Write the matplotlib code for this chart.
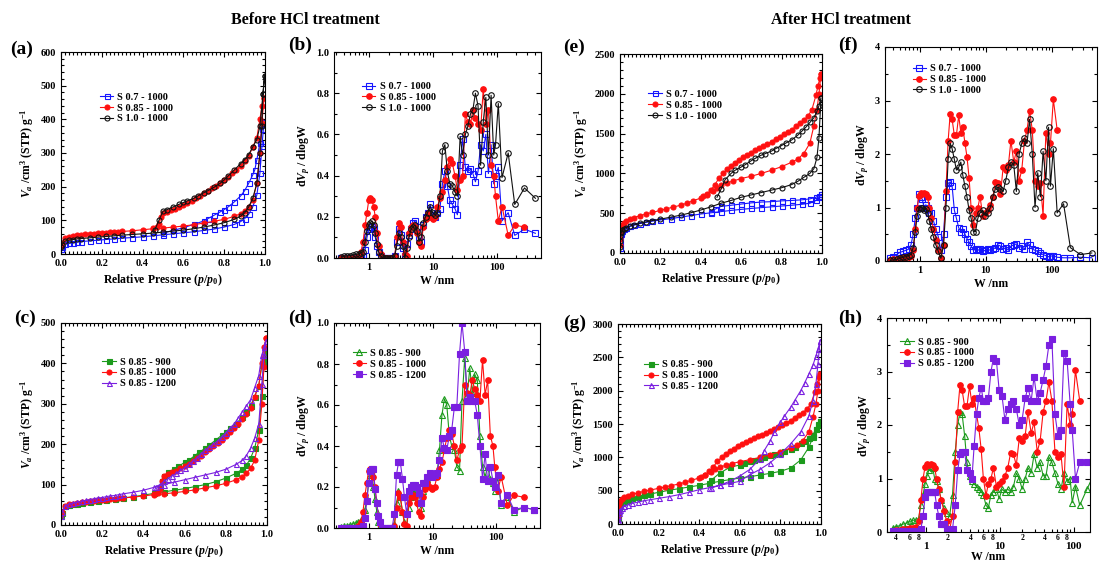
import numpy as np
import matplotlib
matplotlib.use('Agg')
import matplotlib.pyplot as plt
from matplotlib.ticker import (MultipleLocator, AutoMinorLocator, LogLocator,
                               FixedLocator, FuncFormatter, NullFormatter)

nan = np.nan

# ---------------- N2 isotherms, before HCl (p/p0, V cm3/g) ----------------
grid_a = [0.001, 0.005, 0.02, 0.04, 0.06, 0.08, 0.10, 0.14, 0.18, 0.22, 0.26, 0.30, 0.35, 0.40,
          0.45, 0.50, 0.55, 0.60, 0.65, 0.70, 0.75, 0.80, 0.85, 0.88, 0.90, 0.92, 0.94, 0.96,
          0.975, 0.985, 0.995]
grid_b = [0.001, 0.005, 0.02, 0.04, 0.06, 0.08, 0.10, 0.12, 0.14, 0.16, 0.18, 0.20, 0.22, 0.24,
          0.26, 0.28, 0.30, 0.35, 0.40, 0.45, 0.50, 0.55, 0.60, 0.65, 0.70, 0.75, 0.80, 0.85,
          0.88, 0.90, 0.92, 0.94, 0.96, 0.975, 0.985, 0.995]

bef_s07_ads_p = grid_a
bef_s07_ads_v = [14, 20, 29, 32, 34, 36, 37, 39, 41, 43, 45, 47, 49, 51, 54, 57, 60, 63, 66, 70,
                 74, 80, 88, 96, 105, 118, 140, 175, 240, 320, 392]
bef_s07_des_p = [0.995, 0.985, 0.975, 0.96, 0.95, 0.94, 0.92, 0.90, 0.88, 0.85, 0.82, 0.80, 0.78,
                 0.75, 0.72, 0.70, 0.65, 0.60, 0.55, 0.50]
bef_s07_des_v = [392, 370, 330, 280, 250, 235, 210, 188, 172, 155, 140, 132, 125, 115, 105, 98,
                 88, 78, 70, 62]

bef_s085_ads_p = grid_b
bef_s085_ads_v = [25, 33, 48, 51, 53, 55, 56, 58, 59, 60, 61, 62, 63, 64, 65, 66, 67, 69, 72, 75,
                  77, 80, 83, 87, 92, 97, 103, 112, 120, 128, 140, 160, 210, 300, 390, 462]
bef_s085_des_p = [0.995, 0.985, 0.975, 0.96, 0.94, 0.92, 0.90, 0.88, 0.86, 0.84, 0.82, 0.80, 0.78,
                  0.76, 0.74, 0.72, 0.70, 0.68, 0.66, 0.64, 0.62, 0.60, 0.58, 0.56, 0.54, 0.52,
                  0.50, 0.49, 0.48, 0.47, 0.45]
bef_s085_des_v = [462, 440, 400, 345, 318, 290, 275, 262, 250, 240, 230, 220, 210, 202, 195, 187,
                  180, 172, 165, 158, 152, 146, 140, 134, 130, 126, 122, 110, 90, 80, 76]

bef_s10_ads_p = [0.001, 0.005, 0.02, 0.04, 0.06, 0.08, 0.10, 0.14, 0.18, 0.22, 0.26, 0.30, 0.35,
                 0.40, 0.45, 0.50, 0.55, 0.60, 0.65, 0.70, 0.75, 0.80, 0.85, 0.88, 0.90, 0.92,
                 0.94, 0.96, 0.975, 0.985, 0.99, 0.998]
bef_s10_ads_v = [20, 28, 38, 41, 43, 45, 46, 48, 50, 52, 54, 56, 58, 60, 62, 65, 68, 71, 75, 80,
                 86, 93, 103, 112, 122, 140, 165, 210, 300, 380, 475, 530]
bef_s10_des_p = [0.998, 0.99, 0.975, 0.96, 0.94, 0.92, 0.90, 0.88, 0.85, 0.82, 0.80, 0.78, 0.75,
                 0.72, 0.70, 0.67, 0.65, 0.62, 0.60, 0.58, 0.55, 0.52, 0.50, 0.48, 0.46]
bef_s10_des_v = [530, 475, 380, 340, 318, 295, 280, 268, 250, 232, 220, 210, 198, 188, 182, 172,
                 165, 158, 153, 148, 140, 132, 127, 100, 72]

bef_900_ads_p = grid_a
bef_900_ads_v = [22, 30, 46, 49, 51, 53, 55, 57, 60, 62, 64, 67, 70, 74, 78, 82, 86, 90, 95, 100,
                 107, 116, 128, 138, 148, 165, 190, 235, 320, 400, 425]
bef_900_des_p = [0.995, 0.985, 0.975, 0.96, 0.94, 0.92, 0.90, 0.88, 0.85, 0.82, 0.80, 0.78, 0.75,
                 0.72, 0.70, 0.67, 0.65, 0.62, 0.60, 0.57, 0.55, 0.52, 0.50, 0.49, 0.48]
bef_900_des_v = [425, 410, 395, 345, 318, 295, 280, 268, 250, 240, 230, 222, 210, 198, 190, 180,
                 172, 160, 155, 145, 138, 130, 122, 110, 95]

bef_1200_ads_p = grid_b
bef_1200_ads_v = [22, 32, 48, 52, 55, 57, 59, 61, 63, 65, 67, 68, 70, 72, 73, 75, 77, 81, 86, 93,
                  100, 106, 112, 118, 124, 130, 138, 150, 160, 172, 190, 215, 250, 350, 420, 455]
bef_1200_des_p = [0.995, 0.985, 0.975, 0.96, 0.94, 0.92, 0.90, 0.88, 0.86, 0.84, 0.82, 0.80, 0.78,
                  0.76, 0.74, 0.72, 0.70, 0.68, 0.66, 0.64, 0.62, 0.60, 0.58, 0.56, 0.54, 0.52,
                  0.50, 0.48, 0.46]
bef_1200_des_v = [455, 440, 420, 370, 340, 310, 295, 280, 265, 250, 240, 228, 218, 208, 200, 192,
                  185, 176, 166, 158, 150, 142, 135, 128, 122, 115, 108, 100, 94]

# ---------------- N2 isotherms, after HCl ----------------
grid_c = [0.0005, 0.001, 0.002, 0.004, 0.007, 0.01, 0.02, 0.03, 0.05, 0.07, 0.10, 0.13, 0.16,
          0.20, 0.25, 0.30, 0.35, 0.40, 0.45, 0.50, 0.55, 0.60, 0.65, 0.70, 0.75, 0.80, 0.85,
          0.90, 0.94, 0.96, 0.975, 0.985, 0.995]

aft_s07_ads_p = [0.0005, 0.001, 0.002, 0.004, 0.007, 0.01, 0.02, 0.03, 0.05, 0.07, 0.10, 0.13,
                 0.16, 0.20, 0.25, 0.30, 0.35, 0.40, 0.45, 0.50, 0.55, 0.60, 0.65, 0.70, 0.75,
                 0.80, 0.85, 0.90, 0.94, 0.97, 0.985, 0.995]
aft_s07_ads_v = [60, 130, 200, 240, 265, 280, 300, 315, 335, 350, 370, 385, 400, 415, 432, 450,
                 470, 490, 505, 520, 535, 548, 560, 570, 580, 590, 600, 612, 625, 660, 700, 735]
aft_s07_des_p = [0.995, 0.985, 0.97, 0.94, 0.90, 0.85, 0.80, 0.75, 0.70, 0.65, 0.60, 0.55, 0.50,
                 0.47, 0.45]
aft_s07_des_v = [735, 720, 700, 680, 668, 660, 655, 645, 640, 630, 615, 600, 585, 550, 520]

aft_s085_ads_p = [0.0005, 0.001, 0.002, 0.004, 0.007, 0.01, 0.02, 0.03, 0.05, 0.07, 0.10, 0.13,
                  0.16, 0.20, 0.23, 0.26, 0.30, 0.33, 0.36, 0.40, 0.43, 0.46, 0.48, 0.50, 0.53,
                  0.56, 0.60, 0.65, 0.70, 0.75, 0.80, 0.85, 0.88, 0.91, 0.94, 0.96, 0.975,
                  0.985, 0.995]
aft_s085_ads_v = [100, 180, 250, 300, 330, 350, 380, 400, 425, 445, 470, 490, 510, 535, 555, 575,
                  600, 625, 655, 690, 730, 780, 820, 850, 880, 905, 935, 965, 1000, 1040, 1085,
                  1140, 1180, 1250, 1380, 1600, 1800, 2000, 2250]
aft_s085_des_p = [0.995, 0.99, 0.98, 0.97, 0.95, 0.93, 0.91, 0.89, 0.87, 0.85, 0.83, 0.81, 0.79,
                  0.77, 0.75, 0.73, 0.71, 0.69, 0.67, 0.65, 0.63, 0.61, 0.59, 0.57, 0.55, 0.53,
                  0.51, 0.49, 0.47, 0.45, 0.43, 0.41]
aft_s085_des_v = [2250, 2200, 2100, 1980, 1800, 1720, 1670, 1630, 1590, 1550, 1520, 1490, 1460,
                  1430, 1400, 1370, 1340, 1320, 1290, 1260, 1230, 1200, 1170, 1130, 1090, 1050,
                  1000, 940, 860, 790, 740, 710]

aft_s10_ads_p = [0.0005, 0.001, 0.002, 0.004, 0.007, 0.01, 0.02, 0.03, 0.05, 0.07, 0.10, 0.13,
                 0.16, 0.20, 0.25, 0.30, 0.35, 0.40, 0.45, 0.50, 0.55, 0.60, 0.65, 0.70, 0.75,
                 0.80, 0.85, 0.88, 0.91, 0.94, 0.96, 0.975, 0.985, 0.995]
aft_s10_ads_v = [80, 150, 210, 250, 270, 285, 305, 320, 340, 355, 375, 392, 408, 425, 450, 475,
                 505, 540, 580, 625, 660, 700, 730, 760, 790, 820, 860, 900, 950, 1000, 1060,
                 1200, 1450, 1950]
aft_s10_des_p = [0.995, 0.985, 0.975, 0.96, 0.94, 0.92, 0.90, 0.88, 0.85, 0.82, 0.80, 0.77, 0.75,
                 0.72, 0.70, 0.67, 0.65, 0.62, 0.60, 0.57, 0.55, 0.52, 0.50, 0.48]
aft_s10_des_v = [1950, 1850, 1780, 1700, 1640, 1580, 1530, 1480, 1420, 1380, 1350, 1310, 1280,
                 1250, 1230, 1190, 1160, 1110, 1080, 1040, 1000, 920, 800, 700]

aft_900_ads_p = grid_c
aft_900_ads_v = [90, 160, 220, 255, 280, 295, 320, 340, 365, 385, 410, 430, 450, 475, 505, 530,
                 555, 580, 610, 640, 665, 690, 710, 735, 760, 790, 840, 960, 1150, 1300, 1420,
                 1500, 1550]
aft_900_des_p = [0.995, 0.985, 0.975, 0.96, 0.94, 0.92, 0.90, 0.87, 0.85, 0.82, 0.80, 0.77, 0.75,
                 0.72, 0.70, 0.67, 0.65, 0.62, 0.60, 0.55, 0.50, 0.46]
aft_900_des_v = [1550, 1480, 1420, 1340, 1290, 1250, 1215, 1160, 1130, 1090, 1070, 1050, 1040,
                 1010, 990, 960, 940, 910, 885, 850, 760, 660]

aft_1200_ads_p = grid_c
aft_1200_ads_v = [40, 80, 120, 160, 190, 210, 240, 265, 290, 310, 330, 350, 365, 385, 410, 440,
                  475, 515, 545, 580, 610, 640, 740, 820, 920, 1050, 1200, 1380, 1620, 1850,
                  2100, 2400, 2750]
aft_1200_des_p = [0.995, 0.985, 0.975, 0.96, 0.94, 0.92, 0.90, 0.87, 0.85, 0.82, 0.80, 0.77,
                  0.75, 0.72, 0.70, 0.65, 0.60, 0.55, 0.50, 0.46]
aft_1200_des_v = [2750, 2620, 2520, 2380, 2250, 2120, 2000, 1850, 1750, 1620, 1530, 1380, 1250,
                  1100, 980, 820, 720, 640, 580, 540]

# ---------------- pore size distributions (W nm, dVp/dlogW) ----------------
W_nm = [0.36, 0.40, 0.45, 0.50, 0.56, 0.62, 0.68, 0.74, 0.80, 0.86,
        0.92, 0.98, 1.04, 1.10, 1.17, 1.24, 1.32, 1.40, 1.50, 1.62,
        1.76, 1.92, 2.10, 2.30, 2.50, 2.70, 2.90, 3.10, 3.35, 3.60,
        3.90, 4.20, 4.50, 4.85, 5.20, 5.60, 6.00, 6.50, 7.00, 7.60,
        8.20, 9.00, 9.80, 10.7, 11.7, 12.8, 14.0, 15.3, 16.7, 18.3,
        20.0, 22.0, 24.0, 26.5, 29.0, 32.0, 35.0, 38.5, 42.0, 46.0,
        50.5, 55.5, 61.0, 67.0, 73.5, 81.0, 89.0, 95.0, 105, 120,
        150, 190, 270, 400]

psd_bef_s07 = [0, 0, 0, 0, 0, 0, 0, 0, 0.01, 0.04,
               0.10, 0.14, 0.15, 0.15, 0.14, 0.10, 0.06, 0.03, 0.01, 0,
               0, 0, 0, 0, 0.01, 0.08, 0.14, 0.11, 0.05, 0.01,
               0.07, 0.11, 0.14, 0.17, 0.18, 0.15, 0.10, 0.08, 0.16, 0.20,
               0.22, 0.26, 0.21, 0.20, 0.22, 0.24, 0.36, 0.42, 0.35, 0.28,
               0.26, 0.24, 0.21, 0.45, 0.58, 0.44, 0.42, 0.43, 0.41, 0.37,
               0.42, 0.55, 0.52, 0.60, 0.41, 0.55, 0.36, 0.40, 0.44, 0.18,
               0.22, 0.11, 0.14, 0.12]
psd_bef_s085 = [0, 0, 0, 0, 0, 0, 0.01, 0.03, 0.08, 0.16,
                0.22, 0.28, 0.29, 0.28, 0.25, 0.20, 0.12, 0.06, 0.02, 0,
                0, 0, 0, 0, 0.01, 0.10, 0.17, 0.15, 0.08, 0.02,
                0.01, 0.12, 0.15, 0.16, 0.15, 0.12, 0.08, 0.06, 0.15, 0.19,
                0.22, 0.20, 0.19, 0.20, 0.25, 0.29, 0.32, 0.38, 0.44, 0.48,
                0.46, 0.40, 0.33, 0.38, 0.40, 0.70, 0.66, 0.65, 0.72, 0.68,
                0.65, 0.62, 0.82, 0.65, 0.72, 0.45, 0.40, 0.30, 0.18, 0.25,
                0.11, 0.16, 0.15, nan]
psd_bef_s10 = [0.005, 0.008, 0.01, 0.012, 0.015, 0.018, 0.02, 0.025, 0.03, 0.08,
               0.13, 0.16, 0.17, 0.18, 0.16, 0.12, 0.07, 0.03, 0.01, 0,
               0, 0, 0, 0, 0.01, 0.06, 0.12, 0.10, 0.06, 0,
               0.05, 0.10, 0.14, 0.15, 0.16, 0.13, 0.08, 0.10, 0.17, 0.20,
               0.22, 0.25, 0.22, 0.21, 0.22, 0.30, 0.52, 0.55, 0.42, 0.36,
               0.35, 0.32, 0.30, 0.59, 0.50, 0.60, 0.64, 0.70, 0.72, 0.80,
               0.74, 0.45, 0.66, 0.78, 0.50, 0.79, 0.50, 0.55, 0.75, 0.39,
               0.51, 0.26, 0.34, 0.29]
psd_bef_900 = [0.005, 0.01, 0.012, 0.015, 0.02, 0.025, 0.03, 0.04, 0.05, 0.09,
               0.14, 0.22, 0.26, 0.27, 0.20, 0.14, 0.08, 0.03, 0.01, 0,
               0, 0, 0, 0, 0.02, 0.12, 0.18, 0.15, 0.08, 0.03,
               0, 0.10, 0.15, 0.17, 0.18, 0.18, 0.12, 0.10, 0.18, 0.21,
               0.24, 0.27, 0.26, 0.27, 0.26, 0.38, 0.55, 0.63, 0.60, 0.45,
               0.40, 0.38, 0.30, 0.28, 0.62, 0.83, 0.65, 0.78, 0.66, 0.75,
               0.72, 0.45, 0.30, 0.25, 0.30, 0.24, 0.22, 0.18, 0.25, 0.11,
               0.15, 0.08, 0.10, 0.09]
psd_bef_1200 = [0, 0, 0, 0, 0, 0, 0, 0, 0.01, 0.05,
                0.13, 0.22, 0.28, 0.29, 0.29, 0.19, 0.12, 0.06, 0.03, 0,
                0, 0, 0, 0, 0.07, 0.26, 0.32, 0.32, 0.24, 0.15,
                0.07, 0.18, 0.20, 0.21, 0.21, 0.20, 0.17, 0.12, 0.22, 0.22,
                0.25, 0.27, 0.25, 0.26, 0.27, 0.33, 0.44, 0.39, 0.38, 0.45,
                0.48, 0.59, 0.59, 0.85, 1.00, 0.86, 0.62, 0.64, 0.62, 0.62,
                0.55, 0.40, 0.24, 0.36, 0.23, 0.30, 0.23, 0.20, 0.26, 0.12,
                0.16, 0.09, 0.10, 0.09]

psd_aft_s07 = [0.05, 0.08, 0.12, 0.16, 0.18, 0.20, 0.22, 0.30, 0.50, 0.80,
               1.00, 1.25, 1.20, 1.15, 1.00, 1.05, 1.00, 0.90, 0.90, 0.75,
               0.60, 0.45, 0.20, 0.50, 1.20, 1.45, 1.48, 1.40, 0.95, 0.80,
               0.62, 0.55, 0.60, 0.50, 0.42, 0.35, 0.28, 0.20, 0.22, 0.20,
               0.22, 0.18, 0.20, 0.22, 0.20, 0.22, 0.25, 0.30, 0.28, 0.22,
               0.25, 0.20, 0.28, 0.30, 0.32, 0.25, 0.28, 0.22, 0.35, 0.30,
               0.22, 0.20, 0.18, 0.15, 0.12, 0.10, 0.08, 0.09, 0.10, 0.07,
               0.06, 0.06, 0.07, 0.06]
psd_aft_s085 = [0.02, 0.03, 0.04, 0.05, 0.06, 0.07, 0.08, 0.10, 0.20, 0.60,
                1.00, 1.22, 1.28, 1.25, 1.27, 1.26, 1.20, 1.00, 0.80, 0.60,
                0.40, 0.20, 0.05, 0.30, 1.30, 2.25, 2.75, 2.65, 2.35, 2.35,
                2.72, 2.40, 2.50, 2.20, 1.95, 1.55, 1.00, 0.68, 0.90, 1.00,
                1.20, 0.85, 0.90, 0.95, 1.05, 1.20, 1.48, 1.45, 1.25, 1.75,
                1.70, 1.80, 2.25, 1.85, 2.05, 1.50, 1.70, 2.25, 2.45, 2.80,
                2.45, 1.50, 1.40, 1.45, 0.85, 2.40, 2.00, 2.20, 3.02, 2.45,
                nan, nan, nan, nan]
psd_aft_s10 = [0.01, 0.02, 0.03, 0.05, 0.07, 0.08, 0.10, 0.12, 0.25, 0.55,
               0.85, 0.98, 1.00, 1.00, 0.95, 0.98, 0.90, 0.75, 0.60, 0.45,
               0.30, 0.18, 0.05, 0.30, 1.00, 1.90, 2.20, 2.10, 1.90, 1.70,
               1.75, 1.85, 1.60, 1.40, 1.20, 0.95, 0.80, 0.55, 0.55, 0.80,
               0.90, 0.95, 0.85, 0.90, 1.00, 1.20, 1.35, 1.38, 1.35, 1.30,
               1.50, 1.75, 1.85, 1.80, 1.30, 2.00, 2.20, 2.30, 2.20, 2.65,
               2.00, 1.00, 1.65, 1.20, 2.05, 1.50, 2.50, 1.40, 2.10, 0.90,
               1.07, 0.25, 0.12, 0.15]
psd_aft_900 = [0.08, 0.10, 0.12, 0.15, 0.17, 0.20, 0.22, 0.22, 0.25, 0.50,
               0.70, 0.90, 1.05, 1.15, 1.22, 1.20, 1.00, 0.95, 0.80, 0.60,
               0.45, 0.35, 0.30, 0.70, 1.50, 2.00, 2.25, 2.20, 1.80, 1.30,
               1.05, 0.95, 0.90, 0.85, 0.80, 0.75, 0.70, 0.50, 0.45, 0.70,
               0.75, 0.80, 0.62, 0.80, 0.75, 0.80, 0.75, 0.85, 1.10, 1.00,
               0.80, 1.00, 1.20, 1.10, 1.45, 1.20, 1.30, 1.05, 1.05, 1.40,
               1.30, 1.10, 0.90, 0.80, 1.10, 0.95, 1.00, 0.55, 0.85, 0.50,
               0.80, 1.10, nan, nan]
psd_aft_1200 = [0.02, 0.02, 0.02, 0.02, 0.02, 0.02, 0.02, 0.02, 0.02, 0.05,
                0.30, 0.65, 0.75, 0.75, 0.75, 0.75, 0.75, 0.50, 0.30, 0.15,
                0.15, 0.05, 0.00, 0.05, 0.50, 1.15, 1.45, 1.50, 1.50, 1.15,
                1.10, 1.00, 1.60, 2.20, 2.50, 2.70, 2.45, 2.45, 2.50, 3.00,
                3.25, 3.20, 2.65, 2.55, 2.10, 2.30, 2.40, 2.45, 2.30, 2.00,
                2.10, 2.50, 2.70, 2.45, 2.90, 2.45, 2.60, 2.85, 3.10, 3.50,
                3.60, 2.20, 1.80, 1.90, 3.35, 3.20, 2.40, 1.90, 1.00, 1.30,
                1.30, 1.30, nan, nan]

labels_act = ['S 0.7 - 1000', 'S 0.85 - 1000', 'S 1.0 - 1000']
labels_temp = ['S 0.85 - 900', 'S 0.85 - 1000', 'S 0.85 - 1200']

BLUE, RED, BLACK = '#1515ff', '#ff1010', '#111111'
GREEN, PURPLE = '#1c9a1c', '#7a1fe0'

plt.rcParams['font.family'] = ['Liberation Serif', 'DejaVu Serif']
plt.rcParams['font.weight'] = 'bold'
plt.rcParams['axes.labelweight'] = 'bold'
plt.rcParams['axes.linewidth'] = 0.8
plt.rcParams['mathtext.fontset'] = 'custom'
plt.rcParams['mathtext.rm'] = 'Liberation Serif:bold'
plt.rcParams['mathtext.it'] = 'Liberation Serif:italic:bold'
plt.rcParams['mathtext.bf'] = 'Liberation Serif:bold'

W, H = 1099, 565
fig = plt.figure(figsize=(W / 100, H / 100), dpi=100)


def add_axes(left, top, right, bottom):
    return fig.add_axes([left / W, 1 - bottom / H, (right - left) / W, (bottom - top) / H])


def common_ticks(ax):
    ax.tick_params(which='both', direction='in', top=True, right=True, labelsize=7.5, width=0.8)
    ax.tick_params(which='major', length=3.5)
    ax.tick_params(which='minor', length=2)


def iso_axes(ax, ymax, ystep):
    ax.set_xlim(0, 1)
    ax.set_ylim(0, ymax)
    ax.xaxis.set_major_locator(MultipleLocator(0.2))
    ax.xaxis.set_minor_locator(MultipleLocator(0.02))
    ax.yaxis.set_major_locator(MultipleLocator(ystep))
    ax.yaxis.set_minor_locator(AutoMinorLocator(5))
    common_ticks(ax)
    ax.set_xlabel(r'Relative Pressure ($p$/$p_0$)', fontsize=8.5, labelpad=3)
    ax.set_ylabel(r'$V_a$ /cm$^3$ (STP) g$^{-1}$', fontsize=8.5, labelpad=3)


def psd_axes(ax, xlim, ymax, ystep, digit_labels=False):
    ax.set_xscale('log')
    ax.set_xlim(*xlim)
    ax.set_ylim(0, ymax)
    ax.xaxis.set_major_locator(FixedLocator([1, 10, 100]))
    ax.xaxis.set_major_formatter(FuncFormatter(lambda v, _: f'{v:g}'))
    ax.xaxis.set_minor_locator(LogLocator(base=10, subs=np.arange(2, 10), numticks=30))
    if digit_labels:
        def lead_digit(v, _):
            d = int(round(v / 10 ** np.floor(np.log10(v) + 1e-9)))
            return str(d) if d in (2, 4, 6, 8) else ''
        ax.xaxis.set_minor_formatter(FuncFormatter(lead_digit))
    else:
        ax.xaxis.set_minor_formatter(NullFormatter())
    ax.yaxis.set_major_locator(MultipleLocator(ystep))
    ax.yaxis.set_minor_locator(AutoMinorLocator(2))
    common_ticks(ax)
    if digit_labels:
        ax.tick_params(axis='x', which='minor', labelsize=5.5, pad=1.5)
        ax.tick_params(axis='x', which='major', labelsize=8, pad=7)
        ax.set_xlabel('W /nm', fontsize=8.5, labelpad=0)
    else:
        ax.set_xlabel('W /nm', fontsize=8.5, labelpad=2)
    ax.set_ylabel(r'd$V_p$ / dlogW', fontsize=8.5, labelpad=3)


def iso(ax, pa, va, pd, vd, label, color, marker, filled):
    ax.plot(np.r_[pa, pd], np.r_[va, vd], color=color, marker=marker, ms=3.6, mew=0.8, lw=0.8,
            mfc=color if filled else 'none', label=label)


def psd(ax, y, label, color, marker, filled):
    ax.plot(W_nm, y, color=color, marker=marker, ms=4, mew=0.8, lw=0.8,
            mfc=color if filled else 'none', label=label)


def legend(ax, x, y):
    ax.legend(loc='upper left', bbox_to_anchor=(x, y), frameon=False, fontsize=7.5,
              handlelength=1.3, handletextpad=0.4, labelspacing=0.15, borderpad=0,
              borderaxespad=0)


# (a) isotherms, activation ratio, before HCl
ax_a = add_axes(61, 52, 265, 254)
iso(ax_a, bef_s07_ads_p, bef_s07_ads_v, bef_s07_des_p, bef_s07_des_v, labels_act[0], BLUE, 's', False)
iso(ax_a, bef_s085_ads_p, bef_s085_ads_v, bef_s085_des_p, bef_s085_des_v, labels_act[1], RED, 'o', True)
iso(ax_a, bef_s10_ads_p, bef_s10_ads_v, bef_s10_des_p, bef_s10_des_v, labels_act[2], BLACK, 'o', False)
iso_axes(ax_a, 600, 100)
legend(ax_a, 0.19, 0.80)

# (b) PSD, activation ratio, before HCl
ax_b = add_axes(334, 52, 541, 258)
psd(ax_b, psd_bef_s07, labels_act[0], BLUE, 's', False)
psd(ax_b, psd_bef_s085, labels_act[1], RED, 'o', True)
psd(ax_b, psd_bef_s10, labels_act[2], BLACK, 'o', False)
psd_axes(ax_b, (0.28, 490), 1.0, 0.2)
legend(ax_b, 0.135, 0.855)

# (c) isotherms, temperature, before HCl
ax_c = add_axes(61, 323, 267, 525)
iso(ax_c, bef_900_ads_p, bef_900_ads_v, bef_900_des_p, bef_900_des_v, labels_temp[0], GREEN, 's', True)
iso(ax_c, bef_s085_ads_p, bef_s085_ads_v, bef_s085_des_p, bef_s085_des_v, labels_temp[1], RED, 'o', True)
iso(ax_c, bef_1200_ads_p, bef_1200_ads_v, bef_1200_des_p, bef_1200_des_v, labels_temp[2], PURPLE, '^', False)
iso_axes(ax_c, 500, 100)
legend(ax_c, 0.2, 0.83)

# (d) PSD, temperature, before HCl
ax_d = add_axes(334, 323, 540, 528)
psd(ax_d, psd_bef_900, labels_temp[0], GREEN, '^', False)
psd(ax_d, psd_bef_s085, labels_temp[1], RED, 'o', True)
psd(ax_d, psd_bef_1200, labels_temp[2], PURPLE, 's', True)
psd_axes(ax_d, (0.28, 490), 1.0, 0.2)
legend(ax_d, 0.09, 0.875)

# (e) isotherms, activation ratio, after HCl
ax_e = add_axes(620, 54, 822, 253)
iso(ax_e, aft_s07_ads_p, aft_s07_ads_v, aft_s07_des_p, aft_s07_des_v, labels_act[0], BLUE, 's', False)
iso(ax_e, aft_s085_ads_p, aft_s085_ads_v, aft_s085_des_p, aft_s085_des_v, labels_act[1], RED, 'o', True)
iso(ax_e, aft_s10_ads_p, aft_s10_ads_v, aft_s10_des_p, aft_s10_des_v, labels_act[2], BLACK, 'o', False)
iso_axes(ax_e, 2500, 500)
legend(ax_e, 0.14, 0.82)

# (f) PSD, activation ratio, after HCl
ax_f = add_axes(885, 47, 1097, 261)
psd(ax_f, psd_aft_s07, labels_act[0], BLUE, 's', False)
psd(ax_f, psd_aft_s085, labels_act[1], RED, 'o', True)
psd(ax_f, psd_aft_s10, labels_act[2], BLACK, 'o', False)
psd_axes(ax_f, (0.3, 480), 4, 1)
legend(ax_f, 0.13, 0.92)

# (g) isotherms, temperature, after HCl
ax_g = add_axes(618, 324, 821, 524)
iso(ax_g, aft_900_ads_p, aft_900_ads_v, aft_900_des_p, aft_900_des_v, labels_temp[0], GREEN, 's', True)
iso(ax_g, aft_s085_ads_p, aft_s085_ads_v, aft_s085_des_p, aft_s085_des_v, labels_temp[1], RED, 'o', True)
iso(ax_g, aft_1200_ads_p, aft_1200_ads_v, aft_1200_des_p, aft_1200_des_v, labels_temp[2], PURPLE, '^', False)
iso_axes(ax_g, 3000, 500)
legend(ax_g, 0.13, 0.82)

# (h) PSD, temperature, after HCl
ax_h = add_axes(887, 318, 1090, 532)
psd(ax_h, psd_aft_900, labels_temp[0], GREEN, '^', False)
psd(ax_h, psd_aft_s085, labels_temp[1], RED, 'o', True)
psd(ax_h, psd_aft_1200, labels_temp[2], PURPLE, 's', True)
psd_axes(ax_h, (0.3, 165), 4, 1, digit_labels=True)
legend(ax_h, 0.064, 0.91)

# panel letters and group headings
for tag, x, y in [('(a)', 22, 49), ('(b)', 300, 45), ('(e)', 574, 47), ('(f)', 848, 45),
                  ('(c)', 25, 318), ('(d)', 300, 318), ('(g)', 575, 323), ('(h)', 850, 318)]:
    fig.text(x / W, 1 - y / H, tag, fontsize=14, fontweight='bold', ha='center', va='center')

fig.text(305 / W, 1 - 20 / H, 'Before HCl treatment', fontsize=11.5, fontweight='bold',
         ha='center', va='center')
fig.text(841 / W, 1 - 20 / H, 'After HCl treatment', fontsize=11.5, fontweight='bold',
         ha='center', va='center')

fig.savefig('out.png', dpi=100)
